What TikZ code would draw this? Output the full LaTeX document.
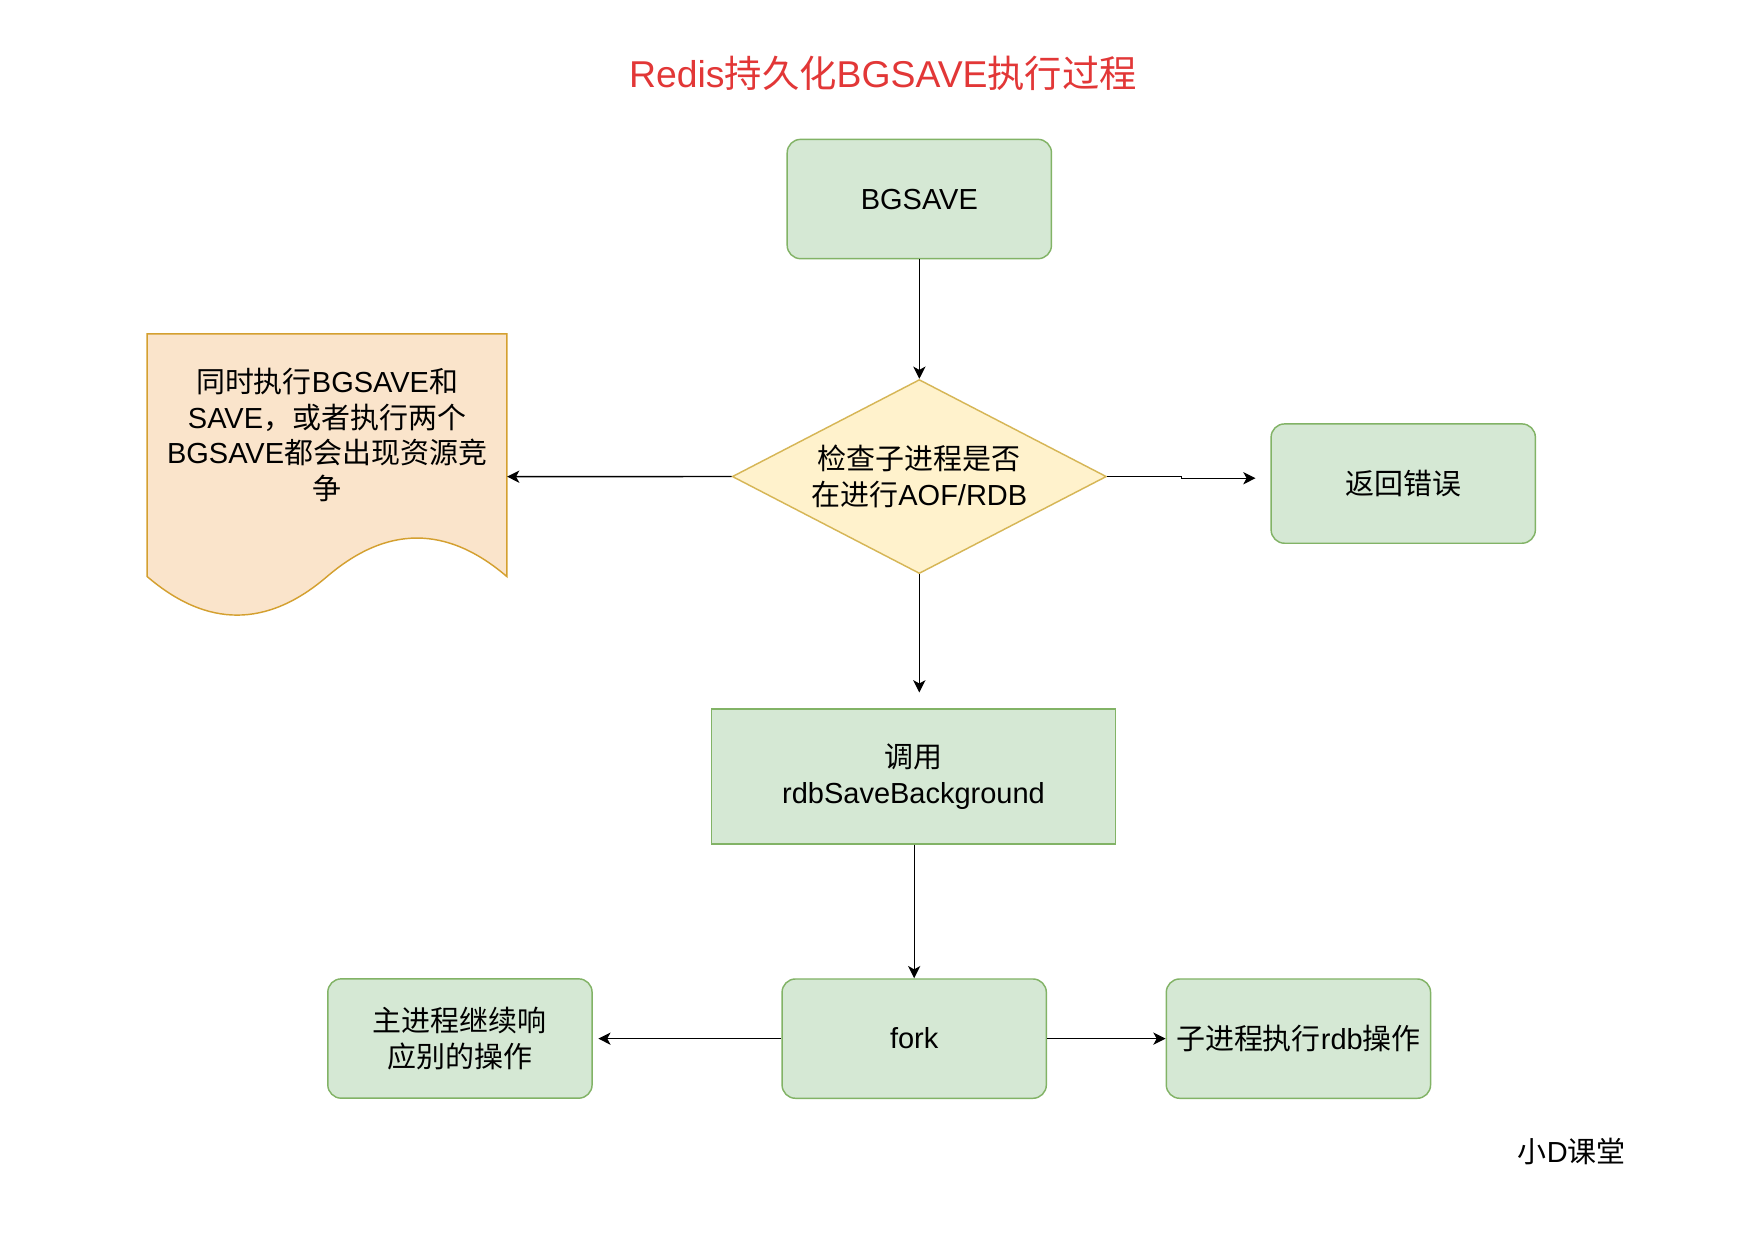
\documentclass[tikz,border=0pt]{standalone}
\usepackage{fontspec}
\setmainfont{Liberation Sans}
\newfontfamily\zh{Noto Sans CJK SC}
\newcommand\zhs[1]{{\zh #1}}
\usetikzlibrary{arrows.meta,shapes.geometric}
\definecolor{gfill}{HTML}{D5E8D4}
\definecolor{gline}{HTML}{82B366}
\definecolor{yfill}{HTML}{FFF2CC}
\definecolor{yline}{HTML}{D6B656}
\definecolor{ofill}{HTML}{FAE4CB}
\definecolor{oline}{HTML}{D4A030}
\definecolor{titlered}{RGB}{226,55,55}
\tikzset{
  txt/.style={font=\fontsize{26}{32}\selectfont, align=center, text=black},
  greenbox/.style={txt, draw=gline, fill=gfill, line width=1.3pt, rounded corners=12pt,
     minimum width=237pt, minimum height=107pt, inner sep=0pt},
  squarebox/.style={txt, draw=gline, fill=gfill, line width=1.3pt,
     minimum width=362.7pt, minimum height=121pt, inner sep=0pt},
  arrowline/.style={draw=black, line width=1.2pt, -{Stealth[length=11pt,width=11pt,inset=3pt]}},
}
\begin{document}
\begin{tikzpicture}[x=1pt,y=-1pt]
\useasboundingbox (0,0) rectangle (1570.4,1113);
\fill[white] (0,0) rectangle (1570.4,1113);

% title
\node[font=\fontsize{33.5}{40}\selectfont, text=titlered, inner sep=0pt] (title) at (792,66)
  {Redis\zhs{持久化}BGSAVE\zhs{执行过程}};

% nodes
\node[greenbox] (bg) at (824.5,178.5) {BGSAVE};
\node[txt, diamond, aspect=1.93, draw=yline, fill=yfill, line width=1.3pt,
      minimum width=335.6pt, minimum height=174pt, inner sep=0pt] (dia) at (824.5,427.4)
  {\zhs{检查子进程是否}\\\zhs{在进行}AOF/RDB};
\node[greenbox] (err) at (1258.5,433.7) {\zhs{返回错误}};
\node[squarebox] (rdb) at (819.3,696.3) {\zhs{调用}\\rdbSaveBackground};
\node[greenbox] (fork) at (819.9,931.5) {fork};
\node[greenbox] (mainp) at (412.5,931.4) {\zhs{主进程继续响}\\\zhs{应别的操作}};
\node[greenbox] (subp) at (1164.5,931.5) {\zhs{子进程执行}rdb\zhs{操作}};

% document shape
\node[minimum width=322.6pt, minimum height=256pt, inner sep=0pt] (doc) at (293.3,427.5) {};
\draw[fill=ofill, draw=oline, line width=1.3pt]
  (132,299.5) -- (454.6,299.5) -- (454.6,517.1)
  .. controls (400.83,471.03) and (347.07,471.03) .. (293.3,517.1)
  .. controls (239.53,563.17) and (185.77,563.17) .. (132,517.1) -- cycle;
\node[txt, inner sep=0pt] (doctext) at (293.3,390)
  {\zhs{同时执行}BGSAVE\zhs{和}\\SAVE\zhs{，或者执行两个}\\BGSAVE\zhs{都会出现资源竞}\\\zhs{争}};

% signature
\node[txt, inner sep=0pt] (sign) at (1409.6,1032.9) {\zhs{小}D\zhs{课堂}};

% connector end points
\coordinate (jog) at (1059.5,428.9);
\coordinate (errend) at (1126,428.9);
\coordinate (rdbend) at (824.5,621);
\coordinate (mainend) at (536.6,931.5);

% connectors
\draw[arrowline] (bg.south) -- (dia.north);
\draw[arrowline] (dia.west) -- (doc.east);
\draw[arrowline] (dia.east) -| (jog) -- (errend);
\draw[arrowline] (dia.south) -- (rdbend);
\draw[arrowline] (fork.north |- rdb.south) -- (fork.north);
\draw[arrowline] (fork.west) -- (mainend);
\draw[arrowline] (fork.east) -- (subp.west);
\end{tikzpicture}
\end{document}
